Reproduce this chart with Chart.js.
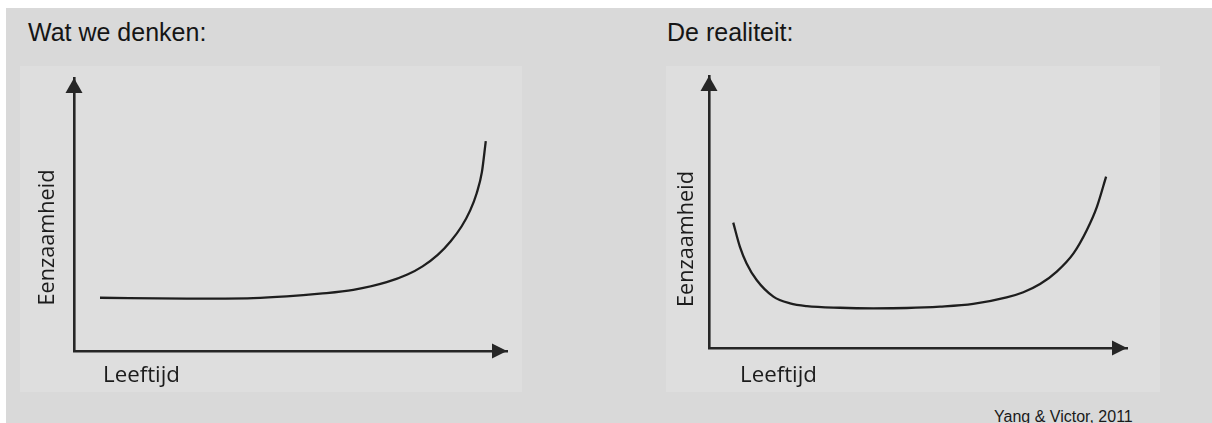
<!DOCTYPE html>
<html>
<head>
<meta charset="utf-8">
<script src="https://cdn.jsdelivr.net/npm/chart.js@4/dist/chart.umd.min.js"></script>
<style>
  html, body { margin: 0; padding: 0; }
  body { width: 1212px; height: 423px; background: #ffffff; position: relative; overflow: hidden; }
  #bg { position: absolute; left: 6px; top: 8px; width: 1206px; height: 415px; background: #d9d9d9; }
  .panel { position: absolute; background: #dedede; }
  .title { position: absolute; font-family: "Liberation Sans", Arial, sans-serif; font-size: 25px; color: #151515; line-height: 1; white-space: nowrap; }
  .src { position: absolute; font-family: "Liberation Sans", Arial, sans-serif; font-size: 16px; color: #1a1a1a; line-height: 1; white-space: nowrap; }
  canvas { position: absolute; left: 0; top: 0; }
</style>
</head>
<body>
<div id="bg"></div>
<div class="title" id="t1" style="left:28px; top:20px;"></div>
<div class="title" id="t2" style="left:667px; top:20px;"></div>
<div class="panel" style="left:20px; top:66px; width:502px; height:326px;"><canvas id="c1" width="502" height="326"></canvas></div>
<div class="panel" style="left:666px; top:66px; width:494px; height:326px;"><canvas id="c2" width="494" height="326"></canvas></div>
<div class="src" id="src" style="left:994px; top:409px;"></div>
<script>
// ---- data ----
const titles = ["Wat we denken:", "De realiteit:"];
const xLabel = "Leeftijd";
const yLabel = "Eenzaamheid";
const sourceText = "Yang & Victor, 2011";

// "Wat we denken" curve (age on a 0-100 axis, loneliness on a 0-100 axis)
const thinkAge = [6, 26, 41.4, 49.1, 56.8, 64.5, 72.2, 77, 80.5, 84, 87, 89.5, 91.5, 93, 94.2, 95.1];
const thinkLoneliness = [19.5, 19.2, 19.4, 20.0, 21.0, 22.4, 25.2, 28.0, 31.0, 35.2, 40.2, 45.6, 51.5, 57.8, 65.5, 76.9];

// "De realiteit" curve
const realAge = [5.8, 7.4, 9.0, 11.4, 15.4, 19.4, 23.4, 31.3, 39.3, 47.3, 55.3, 63.2, 71.2, 75.2, 79.2, 83.2, 87.2, 90.4, 92.8, 95.0];
const realLoneliness = [46.1, 37.2, 31.1, 25.0, 18.9, 16.4, 15.4, 14.8, 14.6, 14.7, 15.2, 16.2, 18.6, 20.5, 23.5, 28.1, 34.8, 43.4, 51.9, 63.0];

document.getElementById('t1').textContent = titles[0];
document.getElementById('t2').textContent = titles[1];
document.getElementById('src').textContent = sourceText;

const AXIS_COLOR = '#262626';
const LINE_COLOR = '#1e1e1e';

function fitFont(ctx, text, target) {
  ctx.font = '22px "Open Sans", sans-serif';
  const w = ctx.measureText(text).width;
  const size = 22 * target / w;
  ctx.font = size.toFixed(2) + 'px "Open Sans", sans-serif';
}

const arrowPlugin = {
  id: 'arrowAxes',
  afterDraw(chart, args, opts) {
    const ctx = chart.ctx;
    const a = chart.chartArea;
    ctx.save();
    ctx.fillStyle = AXIS_COLOR;
    // y arrow head
    ctx.beginPath();
    ctx.moveTo(a.left, a.top);
    ctx.lineTo(a.left - 8.5, a.top + 15);
    ctx.lineTo(a.left + 8.5, a.top + 15);
    ctx.closePath();
    ctx.fill();
    // x arrow head
    ctx.beginPath();
    ctx.moveTo(a.right, a.bottom);
    ctx.lineTo(a.right - 15, a.bottom - 7.5);
    ctx.lineTo(a.right - 15, a.bottom + 7.5);
    ctx.closePath();
    ctx.fill();
    // axis labels
    ctx.fillStyle = '#1c1c1c';
    fitFont(ctx, opts.xLabel, 77);
    ctx.textAlign = 'left';
    ctx.textBaseline = 'alphabetic';
    ctx.fillText(opts.xLabel, a.left + opts.xdx, a.bottom + opts.xdy);
    fitFont(ctx, opts.yLabel, 136);
    ctx.translate(a.left + opts.ydx, opts.ycy);
    ctx.rotate(-Math.PI / 2);
    ctx.textAlign = 'center';
    ctx.textBaseline = 'middle';
    ctx.fillText(opts.yLabel, 0, 0);
    ctx.restore();
  }
};

function makeChart(id, xs, ys, pad, lab) {
  const pts = xs.map((x, i) => ({ x: x, y: ys[i] }));
  return new Chart(document.getElementById(id), {
    type: 'line',
    data: {
      datasets: [{
        data: pts,
        borderColor: LINE_COLOR,
        borderWidth: 2.3,
        pointRadius: 0,
        fill: false,
        cubicInterpolationMode: 'monotone',
        clip: false
      }]
    },
    options: {
      responsive: false,
      animation: false,
      devicePixelRatio: 1,
      layout: { padding: pad },
      plugins: {
        legend: { display: false },
        tooltip: { enabled: false },
        title: { display: false },
        arrowAxes: Object.assign({ xLabel: xLabel, yLabel: yLabel }, lab)
      },
      scales: {
        x: {
          type: 'linear', min: 0, max: 100,
          ticks: { display: false },
          grid: { display: false, drawTicks: false },
          border: { display: true, color: AXIS_COLOR, width: 2.6 }
        },
        y: {
          type: 'linear', min: 0, max: 100,
          ticks: { display: false },
          grid: { display: false, drawTicks: false },
          border: { display: true, color: AXIS_COLOR, width: 2.6 }
        }
      }
    },
    plugins: [arrowPlugin]
  });
}

makeChart('c1', thinkAge, thinkLoneliness,
  { left: 54, top: 12, right: 15, bottom: 41 },
  { xdx: 29, xdy: 31, ydx: -26, ycy: 171.5 });
makeChart('c2', realAge, realLoneliness,
  { left: 43, top: 10, right: 33, bottom: 44 },
  { xdx: 31, xdy: 34, ydx: -22, ycy: 173 });
</script>
</body>
</html>
